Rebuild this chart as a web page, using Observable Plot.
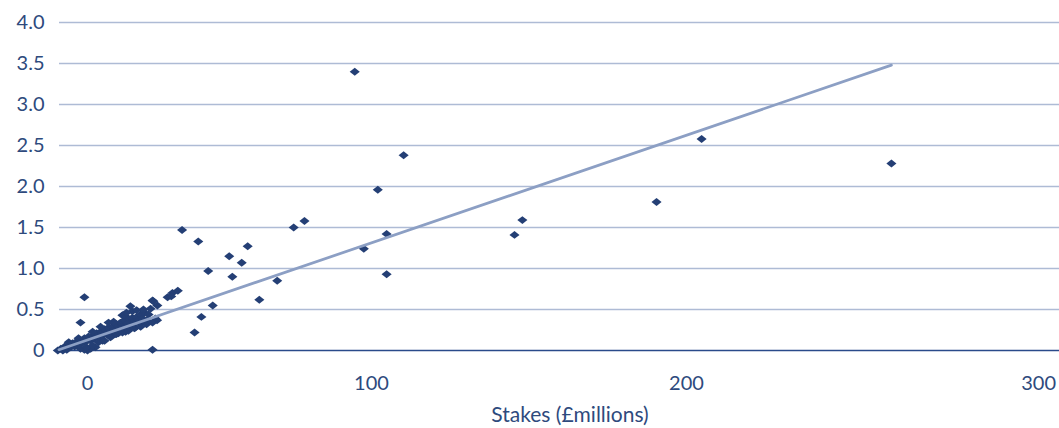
<!DOCTYPE html>
<html>
<head>
<meta charset="utf-8">
<script src="https://cdn.jsdelivr.net/npm/d3@7"></script>
<script src="https://cdn.jsdelivr.net/npm/@observablehq/plot@0.6"></script>
<style>
  html, body { margin: 0; padding: 0; background: #ffffff; }
  #chart { width: 1059px; height: 428px; overflow: hidden; }
  #chart svg { display: block; }
  .xtitle { width: 1059px; height: 28px; line-height: 28px; box-sizing: border-box; padding-left: 81px;
            text-align: center; font-family: Lato, "Open Sans", sans-serif; font-size: 21px; color: #2e4a7d; }
</style>
</head>
<body>
<div id="chart"></div>
<script>
// Stakes (£ millions) on x, y value on the vertical axis
const stakes = [
  -10.6, -9.5, -8.8, -8.1, -7.4, -6.7, -6.0, -5.3, -4.6, -3.9, -3.2, -2.5, -1.8, -1.1, -0.4,
  0.4, 1.1, 1.8, 2.5, 3.2, 3.9, 4.6, 5.3, 6.0, 6.7, 7.4, 8.1, 8.8, 9.5, 10.2, 10.9, 11.6,
  12.3, 13.0, 13.7, 14.4, 15.1, 15.8, 16.5, 17.3, 18.0, 18.7, 19.4, 20.1, 20.8, 21.5,
  22.2, 22.9, 23.9, 24.6, 15.1, 15.8, 12.3, 5.3, 2.8, 0, 1.1, -1.1, 8.1, 9.9, 10.9, 13.4,
  15.1, 16.9, 18.7, 14.1, 9.2, 12.7, 28.2, 29.9, 23.2, -1.1, -2.5, 22.9, 24.5,
  -2.5, -0.4, 1.8, 3.9, 6.0, 8.1, 10.2, 12.3, 14.4, 16.5, 18.7, 20.8, 22.9,
  13.7, 17.3, 19.7, 7.4, 4.6, 1.8, -3.2, -6.7,
  33.3, 39.0, 49.9, 56.4, 54.3, 42.5, 51.0, 66.8, 60.5, 44.1, 31.8, 29.5, 72.6, 76.4,
  97.3, 94.1, 102.0, 104.8, 104.8, 110.2, 145.4, 147.9, 190.5, 204.3, 258.2, 40.1, 37.7
];
const values = [
  0, 0.02, 0, 0.05, 0.01, 0.06, 0.04, 0.09, 0.05, 0.11, 0.07, 0.12, 0.09, 0.15, 0.11,
  0.17, 0.12, 0.18, 0.15, 0.21, 0.16, 0.23, 0.18, 0.26, 0.21, 0.28, 0.23, 0.29, 0.26, 0.32, 0.27, 0.34,
  0.29, 0.37, 0.30, 0.39, 0.33, 0.40, 0.35, 0.41, 0.37, 0.44, 0.39, 0.46, 0.37, 0.44,
  0.51, 0.61, 0.39, 0.55, 0.54, 0.48, 0.43, 0.12, 0.04, 0, 0.02, 0.01, 0.17, 0.20, 0.21, 0.23,
  0.28, 0.28, 0.33, 0.33, 0.35, 0.43, 0.65, 0.70, 0.60, 0.65, 0.34, 0.01, 0.37,
  0.02, 0.04, 0.06, 0.10, 0.12, 0.16, 0.20, 0.22, 0.24, 0.27, 0.29, 0.32, 0.34,
  0.46, 0.49, 0.50, 0.34, 0.29, 0.23, 0.15, 0.10,
  1.47, 1.33, 1.15, 1.27, 1.07, 0.97, 0.90, 0.85, 0.62, 0.55, 0.73, 0.66, 1.50, 1.58,
  1.24, 3.40, 1.96, 1.42, 0.93, 2.38, 1.41, 1.59, 1.81, 2.58, 2.28, 0.41, 0.22
];
// Linear trendline end points
const trendX = [-10.2, 258.2];
const trendY = [0.01, 3.48];

const xTicks = [0, 100, 200, 300];
const xTickLabels = ["0", "100", "200", "300"];
const yTicks = [0, 0.5, 1.0, 1.5, 2.0, 2.5, 3.0, 3.5, 4.0];
const yTickLabels = ["0", "0.5", "1.0", "1.5", "2.0", "2.5", "3.0", "3.5", "4.0"];
const xTitle = "Stakes (£millions)";

// The reference's horizontal axis is stretched unevenly between its labelled ticks;
// reproduce it with a piecewise warp of the stake values (in "first-segment" units).
const warp = d3.scaleLinear()
  .domain([-10, 0, 100, 200, 300])
  .range([-9.86, 0, 100, 210.9, 334.9]);

const points = stakes.map((s, i) => ({x: warp(s), y: values[i]}));
const trend = trendX.map((s, i) => ({x: warp(s), y: trendY[i]}));
const xTickPos = xTicks.map(warp);

// slightly flattened diamond marker
const flatDiamond = {
  draw(context, size) {
    const r = Math.sqrt(size / Math.PI);
    const w = r * 1.2, h = r * 0.95;
    context.moveTo(0, -h);
    context.lineTo(w, 0);
    context.lineTo(0, h);
    context.lineTo(-w, 0);
    context.closePath();
  }
};

const textColor = "#2e4a7d";

const chart = Plot.plot({
  width: 1059,
  height: 400,
  marginLeft: 59,
  marginRight: 0,
  marginTop: 22,
  marginBottom: 50,
  style: {fontFamily: "Lato, 'Open Sans', sans-serif", fontSize: "20px", color: textColor, background: "#ffffff"},
  x: {domain: [-9.86, 342.25]},
  y: {domain: [0, 4]},
  marks: [
    Plot.gridY(yTicks.filter(d => d > 0), {stroke: "#aebbd5", strokeOpacity: 1, strokeWidth: 1.5}),
    Plot.axisY(yTicks, {tickSize: 0, tickPadding: 15, tickFormat: d => yTickLabels[yTicks.indexOf(d)], label: null, fill: textColor}),
    Plot.axisX(xTickPos, {tickSize: 0, tickPadding: 25, tickFormat: d => xTickLabels[xTickPos.indexOf(d)], label: null, fill: textColor}),
    Plot.ruleY([0], {stroke: "#2a4a8a", strokeWidth: 1.5}),
    Plot.dot(points, {x: "x", y: "y", symbol: flatDiamond, r: 4.2, fill: "#243f75", stroke: "none"}),
    Plot.line(trend, {x: "x", y: "y", stroke: "#8c9fc4", strokeWidth: 2.75})
  ]
});
const holder = document.getElementById("chart");
holder.appendChild(chart);
const t = document.createElement("div");
t.className = "xtitle";
t.textContent = xTitle;
holder.appendChild(t);
</script>
</body>
</html>
